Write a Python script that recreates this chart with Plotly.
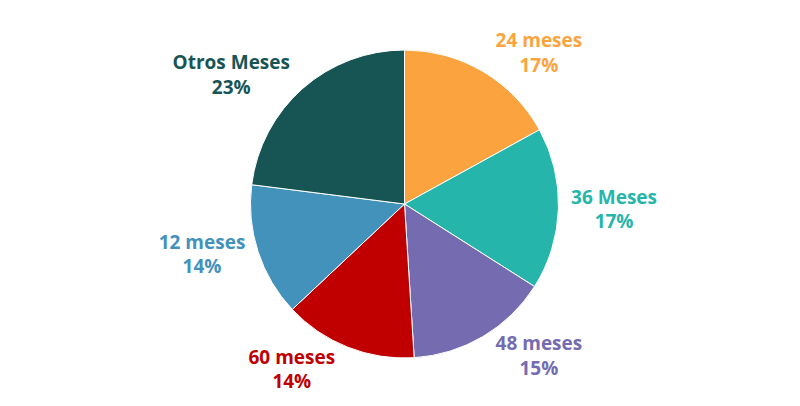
import plotly.graph_objects as go

labels = ['24 meses', '36 Meses', '48 meses', '60 meses', '12 meses', 'Otros Meses']
values = [17, 17, 15, 14, 14, 23]
colors = ['#FBA43F', '#26B5AA', '#756BB0', '#C00000', '#4392BC', '#175555']

text = [f'<b>{l}<br>{v}%</b>' for l, v in zip(labels, values)]

fig = go.Figure(go.Pie(
    labels=labels, values=values, text=text,
    textinfo='text', textposition='outside',
    sort=False, direction='clockwise', rotation=0,
    marker=dict(colors=colors, line=dict(color='white', width=1)),
    outsidetextfont=dict(color=colors, size=19, family='Open Sans'),
    showlegend=False, hoverinfo='label+percent',
))
fig.update_layout(width=800, height=406, margin=dict(l=0, r=10, t=42, b=56),
                  paper_bgcolor='white', plot_bgcolor='white')
fig.write_html('out.html')
